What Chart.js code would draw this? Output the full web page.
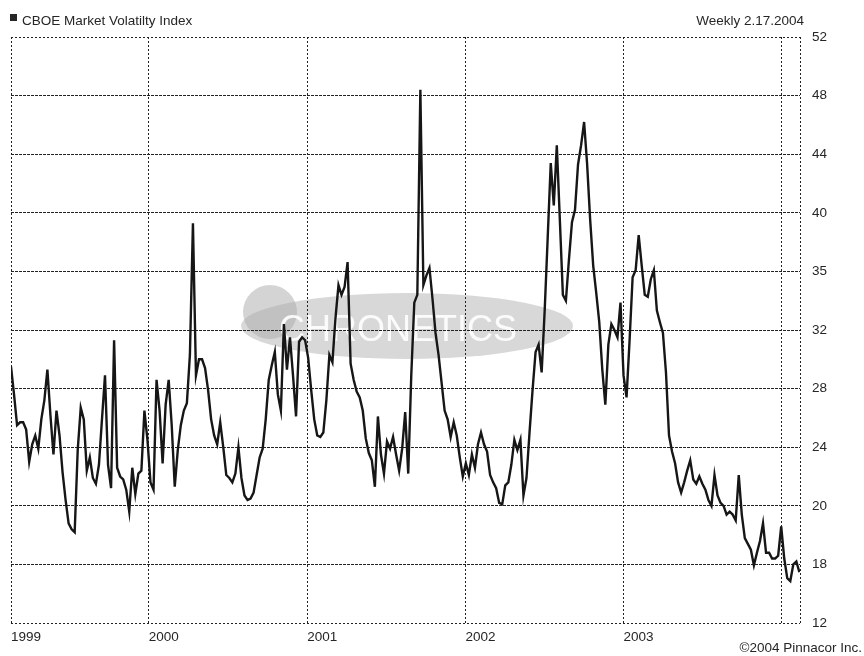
<!DOCTYPE html>
<html>
<head>
<meta charset="utf-8">
<script src="https://cdn.jsdelivr.net/npm/chart.js@4.4.1/dist/chart.umd.min.js"></script>
<style>
    html, body { margin: 0; padding: 0; background: #fff; }
</style>
</head>
<body>
<canvas id="grafico-vix" width="864" height="656"></canvas>
<script>
// semanas desde 17.02.1999 onde cada ano começa (última = fim do gráfico)
const anosRotulos = ['1999', '2000', '2001', '2002', '2003', '', ''];
const anosSemanas = [0, 45.43, 97.71, 149.86, 202.0, 254.14, 260.2];

// rótulos do eixo direito (linhas igualmente espaçadas)
const yTicks = [12, 18, 20, 24, 28, 32, 35, 40, 44, 48, 52];

// fechamento semanal do VIX
const vixSemanal = [
    29.5, 27.6, 25.5, 25.7, 25.7, 25.2, 23.0, 24.2, 24.8, 23.9,
    25.9, 27.2, 29.3, 26.2, 23.5, 26.5, 24.8, 22.3, 20.4, 19.4,
    19.2, 19.1, 23.8, 26.7, 25.9, 22.4, 23.3, 21.9, 21.5, 22.8,
    25.9, 28.9, 22.8, 21.2, 31.3, 22.6, 22.0, 21.8, 21.1, 19.8,
    22.6, 20.8, 22.2, 22.4, 26.5, 24.5, 21.6, 21.1, 28.6, 26.5,
    22.9, 26.9, 28.6, 25.5, 21.3, 23.8, 25.5, 26.5, 27.0, 30.3,
    39.1, 28.9, 30.0, 30.0, 29.4, 27.9, 25.9, 24.8, 24.2, 25.7,
    24.0, 22.1, 21.9, 21.6, 22.2, 24.0, 21.9, 20.7, 20.4, 20.5,
    20.9, 22.1, 23.3, 23.9, 25.9, 28.6, 29.6, 30.5, 27.6, 26.5,
    32.3, 29.3, 31.5, 28.9, 26.1, 31.2, 31.5, 31.3, 30.1, 27.9,
    25.9, 24.8, 24.7, 25.0, 27.2, 30.3, 29.8, 32.6, 34.3, 33.8,
    34.2, 35.8, 29.7, 28.6, 27.8, 27.4, 26.5, 24.6, 23.6, 23.1,
    21.3, 26.1, 23.5, 22.2, 24.4, 23.9, 24.7, 23.5, 22.4, 23.9,
    26.4, 22.2, 28.9, 33.4, 33.8, 48.4, 34.3, 34.8, 35.3, 33.6,
    31.8, 30.3, 28.4, 26.5, 25.9, 24.7, 25.7, 24.8, 23.3, 22.0,
    22.9, 22.1, 23.5, 22.6, 24.2, 25.0, 24.2, 23.7, 22.1, 21.6,
    21.2, 20.2, 20.1, 21.4, 21.6, 22.8, 24.5, 23.8, 24.5, 20.7,
    21.9, 25.0, 27.9, 30.5, 31.0, 29.1, 33.0, 37.9, 43.4, 40.5,
    44.6, 39.4, 33.8, 33.5, 36.0, 39.2, 40.2, 43.3, 44.6, 46.2,
    43.3, 39.4, 35.5, 33.9, 32.4, 29.3, 26.9, 31.0, 32.3, 32.0,
    31.5, 33.4, 28.9, 27.4, 31.3, 34.7, 35.1, 38.1, 35.5, 33.8,
    33.7, 34.6, 35.1, 33.0, 32.4, 31.8, 29.1, 24.8, 23.7, 22.9,
    21.6, 20.9, 21.6, 22.4, 23.1, 21.8, 21.5, 22.0, 21.5, 21.1,
    20.4, 20.0, 22.1, 20.7, 20.2, 20.0, 19.7, 19.8, 19.7, 19.5,
    22.1, 19.7, 18.9, 18.7, 18.5, 17.9, 18.4, 18.8, 19.4, 18.4,
    18.4, 18.2, 18.2, 18.3, 19.3, 18.2, 16.6, 16.3, 18.0, 18.1, 17.2
];
const semanas = vixSemanal.map((v, i) => i);

const fonte = '"Liberation Sans", Arial, Helvetica, sans-serif';
const corTexto = '#262626';

// eixo com faixas iguais entre rótulos consecutivos
class EscalaFaixas extends Chart.LinearScale {
    determineDataLimits() {
        this.min = 0;
        this.max = yTicks.length - 1;
    }
    buildTicks() {
        return yTicks.map(v => ({ value: v }));
    }
    paraIndice(v) {
        const n = yTicks.length - 1;
        if (v <= yTicks[0]) return (v - yTicks[0]) / (yTicks[1] - yTicks[0]);
        for (let k = 0; k < n; k++) {
            if (v <= yTicks[k + 1]) return k + (v - yTicks[k]) / (yTicks[k + 1] - yTicks[k]);
        }
        return n + (v - yTicks[n]) / (yTicks[n] - yTicks[n - 1]);
    }
    getPixelForValue(v) {
        return super.getPixelForValue(this.paraIndice(v));
    }
}
EscalaFaixas.id = 'faixas';
EscalaFaixas.defaults = Chart.LinearScale.defaults;
Chart.register(EscalaFaixas);

const marcaDagua = {
    id: 'marcaDagua',
    beforeDraw(chart) {
        const ctx = chart.ctx;
        ctx.save();
        ctx.fillStyle = 'rgba(190, 190, 190, 0.6)';
        ctx.beginPath();
        ctx.ellipse(407, 326, 166, 33, 0, 0, Math.PI * 2);
        ctx.fill();
        ctx.fillStyle = 'rgba(170, 170, 170, 0.5)';
        ctx.beginPath();
        ctx.arc(270, 312, 27, 0, Math.PI * 2);
        ctx.fill();
        ctx.fillStyle = 'rgba(255, 255, 255, 0.9)';
        ctx.font = '36px ' + fonte;
        ctx.textAlign = 'center';
        ctx.textBaseline = 'alphabetic';
        ctx.fillText('CHRONETICS', 398, 341);
        ctx.restore();
    }
};

const textos = {
    id: 'textos',
    afterDraw(chart) {
        const ctx = chart.ctx;
        ctx.save();
        ctx.fillStyle = corTexto;
        ctx.fillRect(10, 14, 7, 7);
        ctx.font = '13.5px ' + fonte;
        ctx.textBaseline = 'alphabetic';
        ctx.textAlign = 'left';
        ctx.fillText('CBOE Market Volatilty Index', 22, 25);
        ctx.textAlign = 'right';
        ctx.fillText('Weekly 2.17.2004', 804, 25);
        ctx.fillText('\u00A92004 Pinnacor Inc.', 862, 652);
        ctx.restore();
    }
};

new Chart(document.getElementById('grafico-vix'), {
    type: 'line',
    data: {
        labels: semanas,
        datasets: [{
            label: 'CBOE Market Volatilty Index',
            data: vixSemanal,
            borderColor: '#161616',
            borderWidth: 2.4,
            pointRadius: 0,
            tension: 0,
            fill: false
        }]
    },
    options: {
        responsive: false,
        animation: false,
        devicePixelRatio: 1,
        layout: { padding: { left: 11, top: 37, right: 0, bottom: 0 } },
        plugins: {
            legend: { display: false },
            tooltip: { enabled: false }
        },
        scales: {
            x: {
                type: 'linear',
                min: 0,
                max: anosSemanas[anosSemanas.length - 1],
                afterBuildTicks: (s) => { s.ticks = anosSemanas.map(w => ({ value: w })); },
                afterFit: (s) => { s.height = 33; },
                grid: { color: '#222', lineWidth: 1, drawTicks: false },
                border: { display: false, dash: [2, 2] },
                ticks: {
                    callback: (v, i) => anosRotulos[i],
                    align: 'start',
                    autoSkip: false,
                    maxRotation: 0,
                    minRotation: 0,
                    padding: 6,
                    color: corTexto,
                    font: { family: fonte, size: 13.5 }
                }
            },
            y: {
                type: 'faixas',
                position: 'right',
                afterFit: (s) => { s.width = 64; },
                grid: { color: '#222', lineWidth: 1, drawTicks: false },
                border: {
                    display: false,
                    dash: (c) => (c.index === 0 || c.index === yTicks.length - 1) ? [2, 2] : [3, 1]
                },
                ticks: {
                    callback: (v) => String(v),
                    autoSkip: false,
                    padding: 12,
                    color: corTexto,
                    font: { family: fonte, size: 13.5 }
                }
            }
        }
    },
    plugins: [marcaDagua, textos]
});
</script>
</body>
</html>
